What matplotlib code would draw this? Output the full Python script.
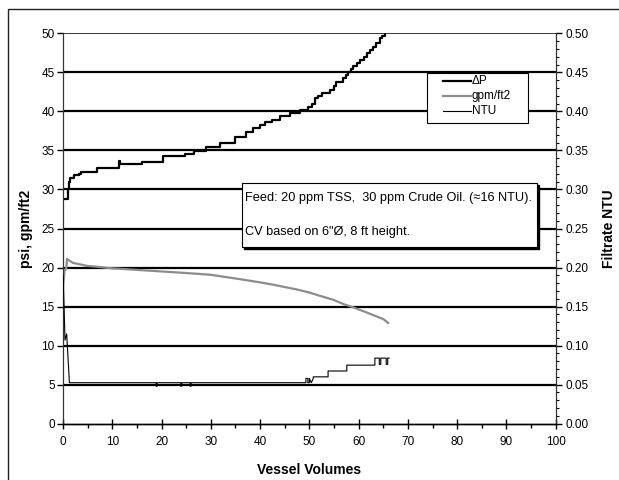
import matplotlib
matplotlib.use("Agg")
import matplotlib.pyplot as plt
from matplotlib.patches import Rectangle
from matplotlib.lines import Line2D
from matplotlib.ticker import MultipleLocator

plt.rcParams['font.family'] = ['Liberation Sans', 'DejaVu Sans']

# Delta P (psi) step series
dp_x = [0, 0.95, 1.2, 1.5, 2.2, 3.3, 3.7, 6.8, 11.4, 11.6, 16, 20.3, 24.7, 26.5, 29, 31.9,
        34.9, 37.1, 38.6, 40.0, 41, 42.5, 44, 46, 48.1, 49.8, 50.5, 51.1, 51.8, 52.5, 54.2,
        55.0, 55.5, 56.9, 57.4, 57.9, 58.4, 58.9, 59.6, 60.3, 61.0, 61.6, 62.3, 63, 63.6,
        64.3, 64.8, 65.3]
dp_y = [28.8, 30.0, 31.0, 31.5, 31.8, 32.0, 32.3, 32.7, 33.6, 33.25, 33.5, 34.3, 34.6, 34.9,
        35.4, 36.0, 36.7, 37.4, 37.9, 38.2, 38.6, 38.9, 39.4, 39.8, 40.2, 40.6, 40.9, 41.7,
        42.0, 42.4, 42.8, 43.3, 43.8, 44.3, 44.6, 45.0, 45.4, 45.8, 46.2, 46.6, 47.0, 47.5,
        47.9, 48.3, 48.8, 49.4, 49.7, 50.0]

# Flux (gpm/ft2)
g_x = [0, 0.3, 0.7, 0.8, 2, 5, 7, 10, 15, 20, 25, 30, 35, 40, 42.7, 45, 47.4, 50, 51.5,
       54.9, 57, 58.9, 61, 63, 65, 66]
g_y = [17.5, 19.5, 20.0, 21.1, 20.6, 20.2, 20.1, 19.9, 19.7, 19.5, 19.3, 19.07, 18.6, 18.1,
       17.8, 17.5, 17.2, 16.8, 16.5, 15.86, 15.3, 14.9, 14.4, 13.9, 13.4, 12.9]

# Filtrate NTU (right axis)
n_x = [0.05, 0.4, 0.75, 1.3, 18.9, 18.9, 19.1, 19.1, 23.9, 23.9, 24.1, 24.1, 25.8, 25.8,
       26.0, 26.0, 49.3, 49.3, 49.7, 49.7, 50.0, 50.0, 50.4, 50.8, 50.8, 53.8, 53.8, 57.6,
       57.6, 63.3, 63.3, 64.2, 64.2, 64.5, 64.5, 65.6, 65.6, 65.9, 65.9, 66.2]
n_y = [0.19, 0.107, 0.115, 0.0525, 0.0525, 0.048, 0.048, 0.0525, 0.0525, 0.048, 0.048,
       0.0525, 0.0525, 0.048, 0.048, 0.0525, 0.0525, 0.058, 0.058, 0.0525, 0.0525, 0.058,
       0.0525, 0.058, 0.060, 0.060, 0.0675, 0.0675, 0.075, 0.075, 0.084, 0.084, 0.076,
       0.076, 0.084, 0.084, 0.076, 0.076, 0.084, 0.084]

x_ticks = list(range(0, 101, 10))
left_ticks = list(range(0, 51, 5))
right_ticks = [0.00, 0.05, 0.10, 0.15, 0.20, 0.25, 0.30, 0.35, 0.40, 0.45, 0.50]
legend_labels = ['\u0394P', 'gpm/ft2', 'NTU']

fig = plt.figure(figsize=(6.19, 4.8), dpi=100)
# outer frame
fig.patches.append(Rectangle((8/619, -0.05), 1.1, 1 - 9/480 + 0.05, transform=fig.transFigure,
                             fill=False, edgecolor='#222222', linewidth=1.0))

ax = fig.add_axes([63/619, 1 - 423.7/480, (555.7-63)/619, (423.7-33.3)/480])
ax.set_xlim(0, 100)
ax.set_ylim(0, 50)
for v in left_ticks[1:]:
    ax.axhline(v, color='black', linewidth=1.6 if v < 50 else 1.1, zorder=1)

gpm_line, = ax.plot(g_x, g_y, color='#8c8c8c', linewidth=1.6, zorder=3)
dp_line, = ax.plot(dp_x, dp_y, color='black', linewidth=1.6, drawstyle='steps-post', zorder=4)

ax2 = ax.twinx()
ax2.set_ylim(0, 0.5)
ntu_line, = ax2.plot(n_x, n_y, color='black', linewidth=0.8, zorder=5)

for a in (ax, ax2):
    a.spines['top'].set_visible(False)
    a.spines['left'].set_linewidth(0.8)
    a.spines['right'].set_linewidth(0.8)
    a.spines['bottom'].set_linewidth(1.0)
    a.spines['left'].set_color('#333333')
    a.spines['right'].set_color('#333333')

ax.set_xticks(x_ticks)
ax.xaxis.set_minor_locator(MultipleLocator(5))
ax.set_yticks(left_ticks)
ax.tick_params(axis='x', which='major', direction='inout', length=7, width=1, labelsize=8.5, pad=5)
ax.tick_params(axis='x', which='minor', direction='out', length=3, width=1)
ax.tick_params(axis='y', which='major', direction='out', length=4, width=1, labelsize=8.5, pad=2)

ax2.set_yticks(right_ticks)
ax2.set_yticklabels([f"{t:.2f}" for t in right_ticks])
ax2.yaxis.set_minor_locator(MultipleLocator(0.01))
ax2.tick_params(axis='y', which='major', direction='out', length=4, width=1, labelsize=8.5, pad=3)
ax2.tick_params(axis='y', which='minor', direction='out', length=2.5, width=0.8)

ax.set_xlabel('Vessel Volumes', fontsize=10, fontweight='bold', labelpad=11)
ax.set_ylabel('psi, gpm/ft2', fontsize=10, fontweight='bold', labelpad=6)
ax2.set_ylabel('Filtrate NTU', fontsize=10, fontweight='bold', labelpad=10)

# note box with shadow
bx0, by0, bw, bh = 0.363, 0.453, 0.599, 0.164
ax.add_patch(Rectangle((bx0 + 0.005, by0 - 0.006), bw, bh, transform=ax.transAxes,
                       facecolor='black', edgecolor='black', zorder=6))
ax.add_patch(Rectangle((bx0, by0), bw, bh, transform=ax.transAxes,
                       facecolor='white', edgecolor='black', linewidth=0.8, zorder=7))
ax.text(bx0 + 0.007, by0 + bh*0.77, 'Feed: 20 ppm TSS,  30 ppm Crude Oil. (\u224816 NTU).',
        transform=ax.transAxes, fontsize=9.2, va='center', ha='left', zorder=8)
ax.text(bx0 + 0.007, by0 + bh*0.23, 'CV based on 6"\u00d8, 8 ft height.',
        transform=ax.transAxes, fontsize=9.2, va='center', ha='left', zorder=8)

# legend box (manual, to match proportions)
lx0, ly0, lw, lh = 0.739, 0.770, 0.205, 0.129
ax2.add_patch(Rectangle((lx0, ly0), lw, lh, transform=ax2.transAxes,
                        facecolor='white', edgecolor='black', linewidth=0.8, zorder=9))
for i, (ln, lab) in enumerate(zip([dp_line, gpm_line, ntu_line], legend_labels)):
    yy = ly0 + lh - (0.022 + i * 0.038)
    ax2.add_line(Line2D([lx0 + 0.032, lx0 + 0.089], [yy, yy], transform=ax2.transAxes,
                        color=ln.get_color(), linewidth=ln.get_linewidth(), zorder=10))
    ax2.text(lx0 + 0.091, yy, lab, transform=ax2.transAxes, fontsize=8.5,
             va='center', ha='left', zorder=10)

fig.savefig('out.png', dpi=100)
